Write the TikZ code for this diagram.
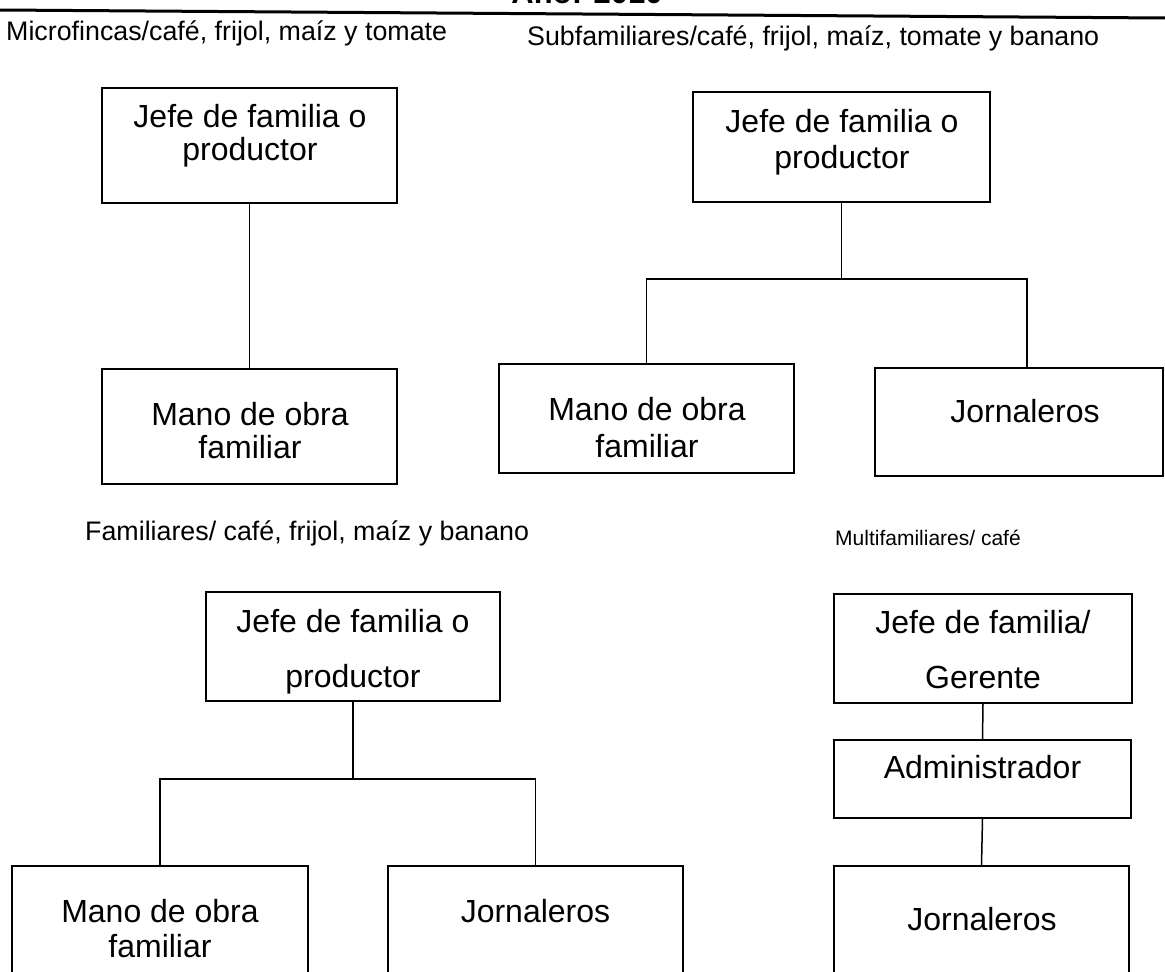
\documentclass[tikz,border=0pt]{standalone}
\usepackage{fontspec}
\setmainfont{Liberation Sans}
\begin{document}
\begin{tikzpicture}[x=1pt,y=-1pt,
  box/.style={draw, line width=1.6pt, inner sep=0pt},
  txt/.style={anchor=base, inner sep=0pt, font=\fontsize{32}{36}\selectfont},
  head/.style={anchor=base west, inner sep=0pt, font=\fontsize{26.8}{30}\selectfont},
  smallhead/.style={anchor=base west, inner sep=0pt, font=\fontsize{21}{24}\selectfont},
  link/.style={line width=1.5pt}]
\useasboundingbox (0,0) rectangle (1165,972);
\clip (0,0) rectangle (1165,972);
% title (cut off at top) and rule
\node[anchor=base, inner sep=0pt, font=\bfseries\fontsize{31}{36}\selectfont] (year) at (587,3) {Año: 2010};
\draw[line width=3pt] (0,10) -- (1165,18);
% headings
\node[head] (h1) at (6,40) {Microfincas/café, frijol, maíz y tomate};
\node[head] (h2) at (527,45) {Subfamiliares/café, frijol, maíz, tomate y banano};
\node[head] (h3) at (85,540) {Familiares/ café, frijol, maíz y banano};
\node[smallhead] (h4) at (835,545) {Multifamiliares/ café};
% group 1
\node[box, minimum width=295pt, minimum height=115pt] (b1) at (249.5,145.5) {};
\node[txt] (t1a) at (250,127) {Jefe de familia o};
\node[txt] (t1b) at (250,160) {productor};
\node[box, minimum width=295pt, minimum height=115pt] (b2) at (249.5,426.5) {};
\node[txt] (t2a) at (250,425) {Mano de obra};
\node[txt] (t2b) at (250,458) {familiar};
\draw[link] (b1.south) -- (b2.north);
% group 2
\node[box, minimum width=297pt, minimum height=110pt] (b3) at (841.5,147) {};
\node[txt] (t3a) at (842,132) {Jefe de familia o};
\node[txt] (t3b) at (842,168) {productor};
\node[box, minimum width=295pt, minimum height=109pt] (b4) at (646.5,418.5) {};
\node[txt] (t4a) at (647,420) {Mano de obra};
\node[txt] (t4b) at (647,457) {familiar};
\node[box, minimum width=288pt, minimum height=108pt] (b5) at (1019,422) {};
\node[txt] (t5) at (1025,422) {Jornaleros};
\coordinate (j2) at (843,279);
\coordinate (b5top) at (1027,368);
\draw[link] (b3.south) -- (b3.south |- j2);
\draw[link] (b4.north) -- (b4.north |- j2) -- (b5top |- j2) -- (b5top);
% group 3
\node[box, minimum width=294pt, minimum height=109pt] (b6) at (353,646.5) {};
\node[txt] (t6a) at (353,632) {Jefe de familia o};
\node[txt] (t6b) at (353,687) {productor};
\node[box, minimum width=296pt, minimum height=130pt] (b7) at (160,931) {};
\node[txt] (t7a) at (160,922) {Mano de obra};
\node[txt] (t7b) at (160,957) {familiar};
\node[box, minimum width=295pt, minimum height=130pt] (b8) at (535.5,931) {};
\node[txt] (t8) at (535.5,922) {Jornaleros};
\coordinate (j3) at (355,779);
\draw[link] (b6.south) -- (b6.south |- j3);
\draw[link] (b7.north) -- (b7.north |- j3) -- (b8.north |- j3) -- (b8.north);
% group 4
\node[box, minimum width=298pt, minimum height=109pt] (b9) at (983,648.5) {};
\node[txt] (t9a) at (983,633) {Jefe de familia/};
\node[txt] (t9b) at (983,688) {Gerente};
\node[box, minimum width=297pt, minimum height=78pt] (b10) at (982.5,779) {};
\node[txt] (t10) at (982.5,778) {Administrador};
\node[box, minimum width=295pt, minimum height=130pt] (b11) at (981.5,931) {};
\node[txt] (t11) at (982,930) {Jornaleros};
\draw[link] (b9.south) -- (b10.north);
\draw[link] (b10.south) -- (b11.north);
\end{tikzpicture}
\end{document}
